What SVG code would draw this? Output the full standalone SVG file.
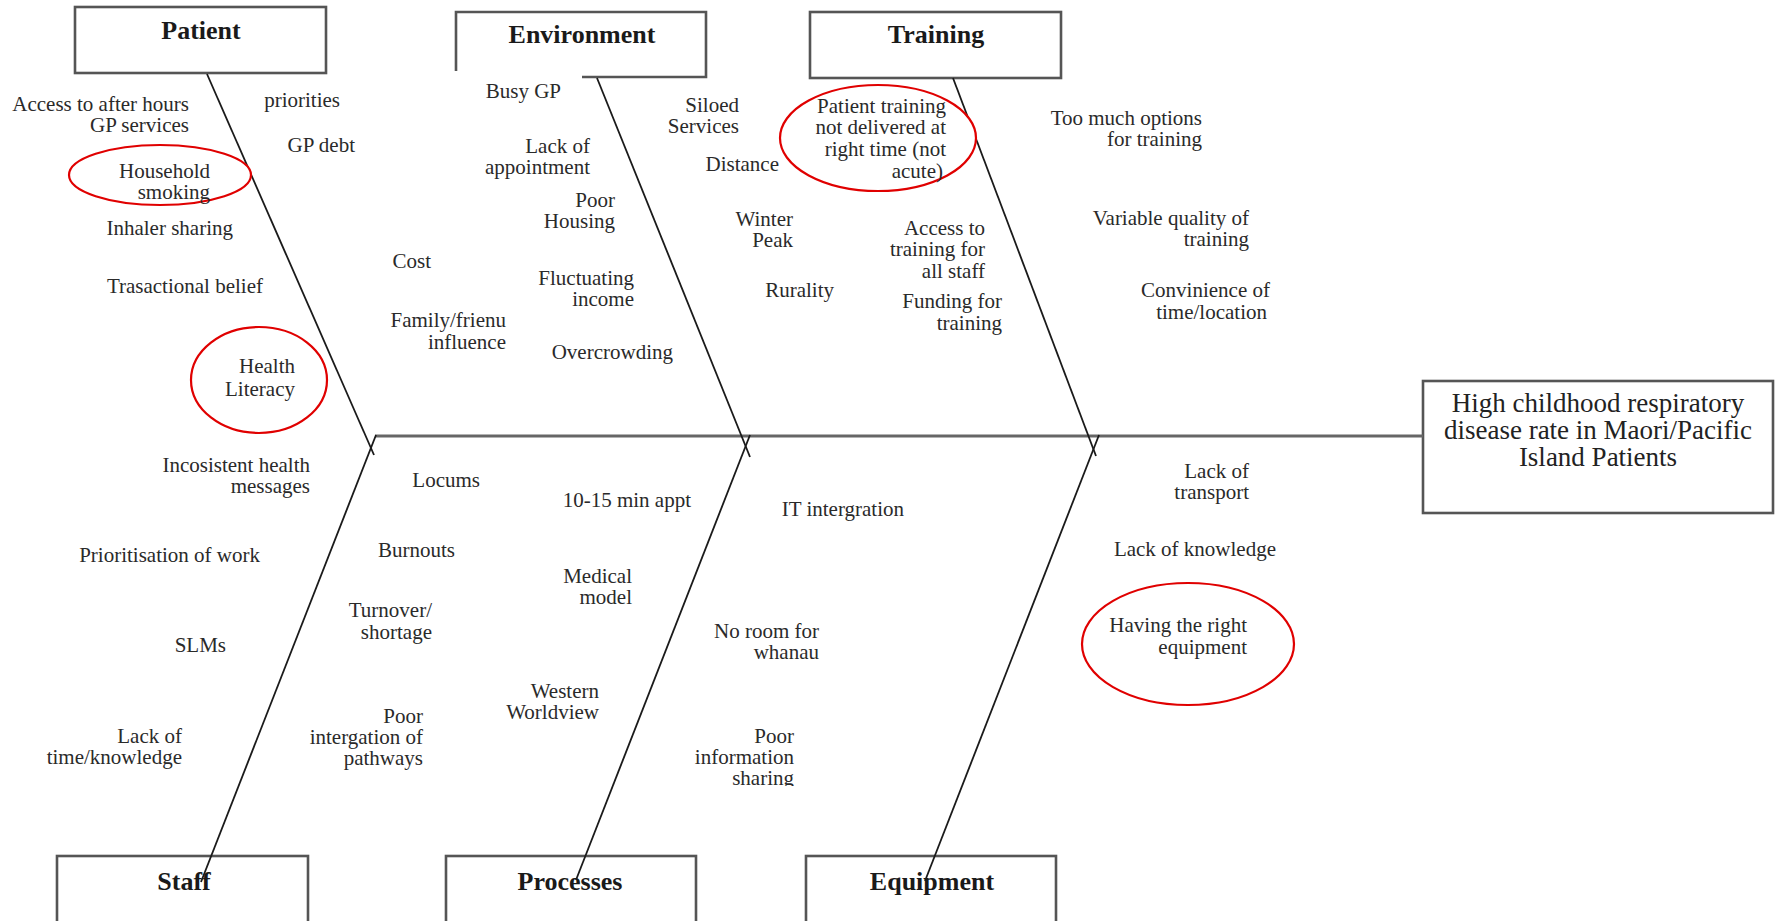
<svg xmlns="http://www.w3.org/2000/svg" width="1777" height="921" viewBox="0 0 1777 921">
<style>
.box{fill:#fff;stroke:#555;stroke-width:2.6}
.ttl{font-family:"Liberation Serif","Times New Roman",serif;font-weight:bold;font-size:26px;fill:#1a1a1a;text-anchor:middle}
.eff{font-family:"Liberation Serif","Times New Roman",serif;font-size:27px;fill:#222;text-anchor:middle}
.lb{font-family:"Liberation Serif","Times New Roman",serif;font-size:21px;fill:#2a2a2a;text-anchor:end}
.bone{stroke:#1a1a1a;stroke-width:1.8;fill:none}
.spine{stroke:#666;stroke-width:3;fill:none}
.ring{fill:#fff;stroke:#e00000;stroke-width:2.2}
</style>
<defs>
<clipPath id="clipShare"><rect x="600" y="700" width="250" height="86"/></clipPath>
</defs>
<rect width="1777" height="921" fill="#fff"/>

<g id="patient">
<rect class="box" x="75" y="7" width="251" height="66"/>
<text class="ttl" x="201" y="39">Patient</text>
</g>
<g id="environment">
<path class="box" d="M456 71 V12 H706 V77 H582" fill="none"/>
<text class="ttl" x="582" y="43">Environment</text>
</g>
<g id="training">
<rect class="box" x="810" y="12" width="251" height="66"/>
<text class="ttl" x="936" y="43">Training</text>
</g>
<g id="staff">
<rect class="box" x="57" y="856" width="251" height="80"/>
<text class="ttl" x="184" y="890">Staff</text>
</g>
<g id="processes">
<rect class="box" x="446" y="856" width="250" height="80"/>
<text class="ttl" x="570" y="890">Processes</text>
</g>
<g id="equipment">
<rect class="box" x="806" y="856" width="250" height="80"/>
<text class="ttl" x="932" y="890">Equipment</text>
</g>
<g id="effect">
<rect class="box" x="1423" y="381" width="350" height="132"/>
<text class="eff" x="1598" y="412">High childhood respiratory</text>
<text class="eff" x="1598" y="439">disease rate in Maori/Pacific</text>
<text class="eff" x="1598" y="466">Island Patients</text>
</g>

<g id="connectors">
<line class="spine" x1="375" y1="436" x2="1423" y2="436"/>
<line class="bone" x1="207" y1="74" x2="374" y2="455"/>
<line class="bone" x1="201" y1="882" x2="376" y2="435"/>
<line class="bone" x1="597" y1="78" x2="750" y2="457"/>
<line class="bone" x1="576" y1="880" x2="750" y2="435"/>
<line class="bone" x1="953" y1="78" x2="1096" y2="456"/>
<line class="bone" x1="925" y1="881" x2="1099" y2="435"/>
</g>

<g id="highlights">
<ellipse class="ring" cx="160" cy="175" rx="91" ry="30"/>
<ellipse class="ring" cx="259" cy="380" rx="68" ry="53"/>
<ellipse class="ring" cx="878" cy="138" rx="98" ry="53"/>
<ellipse class="ring" cx="1188" cy="644" rx="106" ry="61"/>
</g>

<g id="patient-causes">
<text class="lb" x="189" y="111">Access to after hours</text>
<text class="lb" x="189" y="132">GP services</text>
<text class="lb" x="340" y="107">priorities</text>
<text class="lb" x="355" y="152">GP debt</text>
<text class="lb" x="210" y="178">Household</text>
<text class="lb" x="210" y="199">smoking</text>
<text class="lb" x="233" y="235">Inhaler sharing</text>
<text class="lb" x="263" y="293">Trasactional belief</text>
<text class="lb" x="295" y="373">Health</text>
<text class="lb" x="295" y="396">Literacy</text>
<text class="lb" x="431" y="268">Cost</text>
<text class="lb" x="506" y="327">Family/frienu</text>
<text class="lb" x="506" y="349">influence</text>
</g>

<g id="environment-causes">
<text class="lb" x="561" y="98">Busy GP</text>
<text class="lb" x="590" y="153">Lack of</text>
<text class="lb" x="590" y="174">appointment</text>
<text class="lb" x="615" y="207">Poor</text>
<text class="lb" x="615" y="228">Housing</text>
<text class="lb" x="634" y="285">Fluctuating</text>
<text class="lb" x="634" y="306">income</text>
<text class="lb" x="673" y="359">Overcrowding</text>
<text class="lb" x="739" y="112">Siloed</text>
<text class="lb" x="739" y="133">Services</text>
<text class="lb" x="779" y="171">Distance</text>
<text class="lb" x="793" y="226">Winter</text>
<text class="lb" x="793" y="247">Peak</text>
<text class="lb" x="834" y="297">Rurality</text>
</g>

<g id="training-causes">
<text class="lb" x="946" y="113">Patient training</text>
<text class="lb" x="946" y="134">not delivered at</text>
<text class="lb" x="946" y="156">right time (not</text>
<text class="lb" x="943" y="178">acute)</text>
<text class="lb" x="985" y="235">Access to</text>
<text class="lb" x="985" y="256">training for</text>
<text class="lb" x="985" y="278">all staff</text>
<text class="lb" x="1002" y="308">Funding for</text>
<text class="lb" x="1002" y="330">training</text>
<text class="lb" x="1202" y="125">Too much options</text>
<text class="lb" x="1202" y="146">for training</text>
<text class="lb" x="1249" y="225">Variable quality of</text>
<text class="lb" x="1249" y="246">training</text>
<text class="lb" x="1270" y="297">Convinience of</text>
<text class="lb" x="1267" y="319">time/location</text>
</g>

<g id="staff-causes">
<text class="lb" x="310" y="472">Incosistent health</text>
<text class="lb" x="310" y="493">messages</text>
<text class="lb" x="260" y="562">Prioritisation of work</text>
<text class="lb" x="226" y="652">SLMs</text>
<text class="lb" x="182" y="743">Lack of</text>
<text class="lb" x="182" y="764">time/knowledge</text>
<text class="lb" x="480" y="487">Locums</text>
<text class="lb" x="455" y="557">Burnouts</text>
<text class="lb" x="432" y="617">Turnover/</text>
<text class="lb" x="432" y="639">shortage</text>
<text class="lb" x="423" y="723">Poor</text>
<text class="lb" x="423" y="744">intergation of</text>
<text class="lb" x="423" y="765">pathways</text>
</g>

<g id="processes-causes">
<text class="lb" x="691" y="507">10-15 min appt</text>
<text class="lb" x="632" y="583">Medical</text>
<text class="lb" x="632" y="604">model</text>
<text class="lb" x="599" y="698">Western</text>
<text class="lb" x="599" y="719">Worldview</text>
<text class="lb" x="904" y="516">IT intergration</text>
<text class="lb" x="819" y="638">No room for</text>
<text class="lb" x="819" y="659">whanau</text>
<g clip-path="url(#clipShare)">
<text class="lb" x="794" y="743">Poor</text>
<text class="lb" x="794" y="764">information</text>
<text class="lb" x="794" y="785">sharing</text>
</g>
</g>

<g id="equipment-causes">
<text class="lb" x="1249" y="478">Lack of</text>
<text class="lb" x="1249" y="499">transport</text>
<text class="lb" x="1276" y="556">Lack of knowledge</text>
<text class="lb" x="1247" y="632">Having the right</text>
<text class="lb" x="1247" y="654">equipment</text>
</g>
</svg>
